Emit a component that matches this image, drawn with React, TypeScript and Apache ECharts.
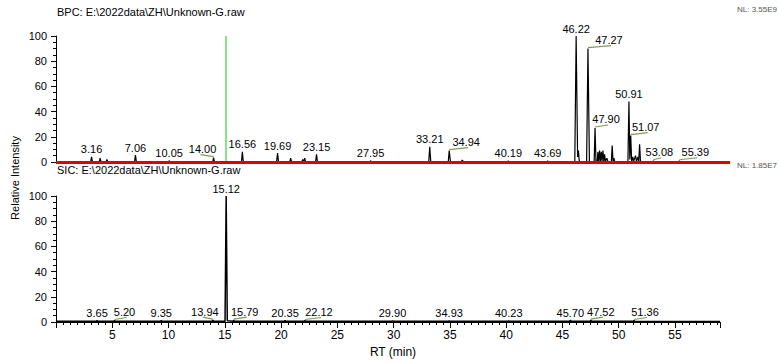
import React, { useEffect, useRef } from "react";
import * as echarts from "echarts";

// ---- Data ----
const bpcTitle = "BPC: E:\\2022data\\ZH\\Unknown-G.raw";
const sicTitle = "SIC: E:\\2022data\\ZH\\Unknown-G.raw";
const bpcNL = "NL: 3.55E9";
const sicNL = "NL: 1.85E7";
const xTicks = [5, 10, 15, 20, 25, 30, 35, 40, 45, 50, 55];

// BPC trace: [RT (min), relative intensity]
const bpcTrace: [number, number][] = [
  [0, 0.3], [3.08, 0.3], [3.16, 4], [3.24, 0.3],
  [3.85, 0.3], [3.92, 3], [4.0, 0.3],
  [4.45, 0.3], [4.52, 2], [4.6, 0.3],
  [6.98, 0.3], [7.06, 5.5], [7.14, 0.3],
  [10.0, 0.3], [10.05, 1], [10.12, 0.3],
  [13.93, 0.3], [14.0, 3.5], [14.08, 0.3],
  [16.48, 0.3], [16.56, 8], [16.64, 0.3],
  [19.6, 0.3], [19.69, 7], [19.77, 0.3],
  [20.78, 0.3], [20.85, 3], [20.93, 0.3],
  [21.85, 0.3], [21.92, 2], [22.0, 0.3], [22.1, 3], [22.18, 0.3],
  [23.07, 0.3], [23.15, 6], [23.23, 0.3],
  [27.9, 0.3], [27.95, 1], [28.02, 0.3],
  [33.12, 0.3], [33.21, 12], [33.3, 0.3],
  [34.86, 0.3], [34.94, 9], [35.05, 0.3],
  [36.0, 0.3], [36.1, 1.5], [36.2, 0.3],
  [40.15, 0.3], [40.19, 1], [40.25, 0.3],
  [43.65, 0.3], [43.69, 1], [43.75, 0.3],
  [46.1, 0.3], [46.22, 100], [46.35, 4], [46.42, 9], [46.5, 0.3],
  [47.15, 0.3], [47.27, 90], [47.4, 0.3],
  [47.82, 0.3], [47.9, 27], [47.98, 0.5],
  [48.1, 0.5], [48.15, 8], [48.22, 0.5], [48.3, 9], [48.37, 0.5], [48.45, 8], [48.52, 0.5],
  [48.6, 9], [48.68, 0.5], [48.75, 6], [48.82, 0.5], [48.95, 3], [49.05, 0.3],
  [49.35, 0.3], [49.42, 13], [49.5, 0.5], [49.58, 3], [49.65, 0.3],
  [50.82, 0.3], [50.91, 48], [50.99, 2], [51.07, 21], [51.15, 0.5], [51.25, 4], [51.32, 0.5],
  [51.5, 5], [51.58, 0.5], [51.72, 4], [51.78, 0.5], [51.86, 14], [51.94, 0.3],
  [53.04, 0.3], [53.08, 1], [53.14, 0.3],
  [55.35, 0.3], [55.39, 1], [55.45, 0.3],
  [59, 0.3],
];

// Labelled BPC peaks: [RT, intensity]
const bpcPeaks: [number, number][] = [
  [3.16, 4], [7.06, 5.5], [10.05, 1], [14.0, 3.5], [16.56, 8], [19.69, 7], [23.15, 6],
  [27.95, 1], [33.21, 12], [34.94, 9], [40.19, 1], [43.69, 1], [46.22, 100], [47.27, 90],
  [47.9, 27], [50.91, 48], [51.07, 21], [53.08, 1], [55.39, 1],
];

// SIC trace
const sicTrace: [number, number][] = [
  [0, 0.5], [3.6, 0.5], [3.65, 1.2], [3.7, 0.5], [5.15, 0.5], [5.2, 1.2], [5.25, 0.5],
  [9.3, 0.5], [9.35, 1.2], [9.4, 0.5], [13.9, 0.5], [13.94, 1.5], [14.0, 0.5],
  [15.02, 0.5], [15.12, 100], [15.22, 1], [15.74, 0.5], [15.79, 1.5], [15.85, 0.5],
  [20.3, 0.5], [20.35, 1.2], [20.4, 0.5], [22.07, 0.5], [22.12, 1.2], [22.18, 0.5],
  [29.85, 0.5], [29.9, 1], [29.95, 0.5], [34.88, 0.5], [34.93, 1], [34.98, 0.5],
  [40.18, 0.5], [40.23, 1], [40.28, 0.5], [45.65, 0.5], [45.7, 1.5], [45.75, 0.5],
  [47.47, 0.5], [47.52, 1.5], [47.57, 0.5], [51.31, 0.5], [51.36, 1.2], [51.41, 0.5],
  [59, 0.3],
];

const sicPeaks: [number, number][] = [
  [3.65, 1.2], [5.2, 1.2], [9.35, 1.2], [13.94, 1.5], [15.12, 100], [15.79, 1.5],
  [20.35, 1.2], [22.12, 1.2], [29.9, 1], [34.93, 1], [40.23, 1], [45.7, 1.5],
  [47.52, 1.5], [51.36, 1.2],
];

const markerRT = 15.12;

// label horizontal shifts (px) for labels with leader lines
const bpcShift: Record<string, number> = {
  "14.00": -11, "34.94": 17, "47.27": 21, "47.90": 11, "51.07": 15, "53.08": 6, "55.39": 16,
};
const sicShift: Record<string, number> = {
  "5.20": 10, "13.94": -8, "15.79": 11, "22.12": 14, "47.52": 10, "51.36": 11,
};

const FONT = "'Liberation Sans', Arial, sans-serif";
const LEADER = "#7f9a55";

export default function App() {
  const ref = useRef<HTMLDivElement>(null);
  useEffect(() => {
    if (!ref.current) return;
    const chart = echarts.init(ref.current, undefined, { renderer: "svg" });

    const yAxisBase = (gridIndex: number) => ({
      type: "value",
      gridIndex,
      min: 0,
      max: 100,
      interval: 20,
      offset: 3,
      axisLine: { show: true, lineStyle: { color: "#000", width: 1 } },
      axisTick: { show: true, length: 5, lineStyle: { color: "#000" } },
      minorTick: { show: true, splitNumber: 4, length: 3, lineStyle: { color: "#000" } },
      splitLine: { show: false },
      axisLabel: { color: "#000", fontSize: 11, fontFamily: FONT, margin: 6 },
    });

    const labelSeries = (
      peaks: [number, number][],
      shift: Record<string, number>,
      xAxisIndex: number,
      yAxisIndex: number
    ) => ({
      type: "custom",
      xAxisIndex,
      yAxisIndex,
      silent: true,
      clip: false,
      data: peaks,
      renderItem: (params: any, api: any) => {
        const rt = api.value(0);
        const h = api.value(1);
        const pt = api.coord([rt, h]);
        const key = Number(rt).toFixed(2);
        const dx = shift[key] || 0;
        const children: any[] = [];
        if (dx) {
          children.push({
            type: "line",
            shape: { x1: pt[0], y1: pt[1] - 1, x2: pt[0] + dx + (dx > 0 ? 2 : -2), y2: pt[1] - 3 },
            style: { stroke: LEADER, lineWidth: 1.2 },
          });
        }
        children.push({
          type: "text",
          x: pt[0] + dx,
          y: pt[1] - (dx ? 3 : 2),
          style: {
            text: key,
            fontSize: 11,
            fontFamily: FONT,
            fill: "#000",
            align: "center",
            verticalAlign: "bottom",
          },
        });
        return { type: "group", children };
      },
      z: 5,
    });

    chart.setOption({
      animation: false,
      backgroundColor: "#fff",
      grid: [
        { left: 56, right: 48.9, top: 36, height: 126 },
        { left: 56, right: 59, top: 196, height: 126 },
      ],
      xAxis: [
        {
          type: "value", gridIndex: 0, min: 0, max: 59.9, interval: 5,
          axisLine: { show: false }, axisTick: { show: false },
          axisLabel: { show: false }, splitLine: { show: false },
        },
        {
          type: "value", gridIndex: 1, min: 0, max: 59, interval: 5,
          axisLine: { show: true, lineStyle: { color: "#000" } },
          axisTick: { show: true, length: 6, lineStyle: { color: "#000" } },
          minorTick: { show: true, splitNumber: 8, length: 3, lineStyle: { color: "#000" } },
          splitLine: { show: false },
          axisLabel: {
            color: "#000", fontSize: 12, fontFamily: FONT, margin: 7,
            formatter: (v: number) => (xTicks.includes(v) ? String(v) : ""),
          },
        },
      ],
      yAxis: [yAxisBase(0), yAxisBase(1)],
      series: [
        {
          type: "line",
          xAxisIndex: 0,
          yAxisIndex: 0,
          data: bpcTrace,
          showSymbol: false,
          lineStyle: { color: "#000", width: 1.2 },
          silent: true,
          markLine: {
            silent: true,
            symbol: "none",
            label: { show: false },
            data: [
              { xAxis: markerRT, lineStyle: { color: "#86e686", width: 2, type: "solid" } },
              { yAxis: 0, lineStyle: { color: "#e00000", width: 3, type: "solid" } },
            ],
          },
          z: 3,
        },
        {
          type: "line",
          xAxisIndex: 1,
          yAxisIndex: 1,
          data: sicTrace,
          showSymbol: false,
          lineStyle: { color: "#000", width: 1.5 },
          silent: true,
          z: 3,
        },
        labelSeries(bpcPeaks, bpcShift, 0, 0),
        labelSeries(sicPeaks, sicShift, 1, 1),
      ],
      graphic: [
        {
          type: "text", left: 57, top: 6,
          style: { text: bpcTitle, fontSize: 11, fontFamily: FONT, fill: "#000" },
        },
        {
          type: "text", left: 57, top: 164,
          style: { text: sicTitle, fontSize: 11, fontFamily: FONT, fill: "#000" },
        },
        {
          type: "text", left: 737, top: 5,
          style: { text: bpcNL, fontSize: 8, fontFamily: FONT, fill: "#555" },
        },
        {
          type: "text", left: 737, top: 161,
          style: { text: sicNL, fontSize: 8, fontFamily: FONT, fill: "#555" },
        },
        {
          type: "text", x: 15, y: 178, rotation: Math.PI / 2,
          style: {
            text: "Relative Intensity", fontSize: 11, fontFamily: FONT, fill: "#000",
            align: "center", verticalAlign: "middle",
          },
        },
        {
          type: "text", x: 393, y: 352,
          style: {
            text: "RT (min)", fontSize: 12, fontFamily: FONT, fill: "#000",
            align: "center", verticalAlign: "middle",
          },
        },
      ],
    });
    return () => chart.dispose();
  }, []);
  return <div ref={ref} style={{ width: 779, height: 363, position: "absolute", left: 0, top: 0 }} />;
}
